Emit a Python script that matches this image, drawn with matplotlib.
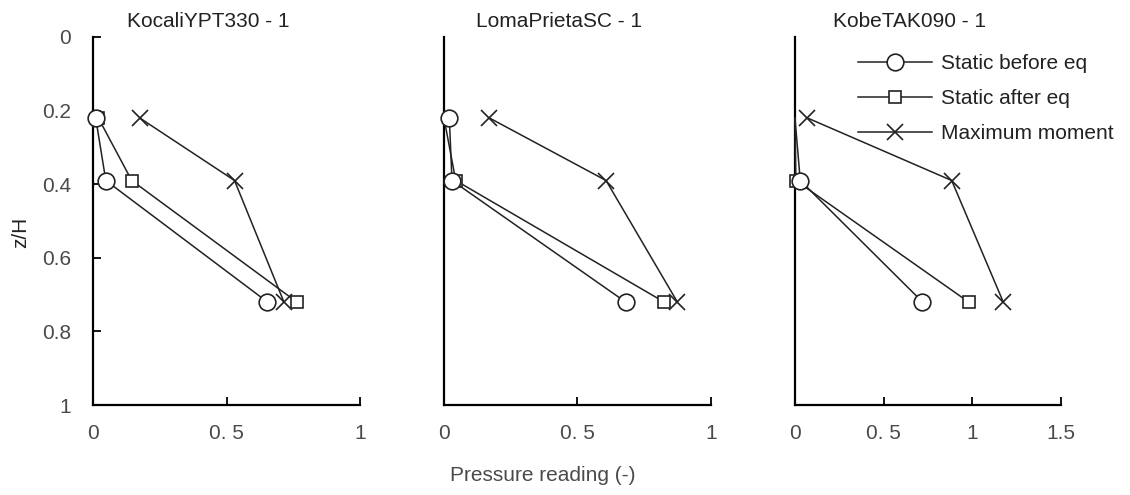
import matplotlib
matplotlib.use('Agg')
import matplotlib.pyplot as plt
import numpy as np

plt.rcParams['font.family'] = ['Liberation Sans', 'DejaVu Sans']

## ------------------------------
## data
z = [0.22, 0.39, 0.72]

titles = ['KocaliYPT330 - 1', 'LomaPrietaSC - 1', 'KobeTAK090 - 1']
labels = ['Static before eq', 'Static after eq', 'Maximum moment']

before_eq = [[0.01, 0.048, 0.653],
             [0.02, 0.03, 0.68],
             [0.0, 0.03, 0.72]]
after_eq = [[0.02, 0.145, 0.763],
            [0.0, 0.044, 0.824],
            [0.0, 0.005, 0.98]]
max_moment = [[0.175, 0.53, 0.715],
              [0.17, 0.607, 0.874],
              [0.07, 0.885, 1.176]]

# which points carry a marker (some sit hidden on the axis)
mark_before = [[0, 1, 2], [0, 1, 2], [1, 2]]
mark_after = [[0, 1, 2], [1, 2], [1, 2]]

xmax = [1, 1, 1.5]
xticks = [[0, 0.5, 1], [0, 0.5, 1], [0, 0.5, 1, 1.5]]
yticks = [0, 0.2, 0.4, 0.6, 0.8, 1]

gray = '#4a4a4a'
dark = '#222222'
fs = 15

fig = plt.figure(figsize=(11.3, 4.95), dpi=100)
lefts = [0.0823, 0.3929, 0.7035]
widths = [0.2363, 0.2363, 0.2351]

axes = []
for i in range(3):
	ax = fig.add_axes([lefts[i], 0.1818, widths[i], 0.7435])
	axes.append(ax)
	ax.plot(max_moment[i], z, color=dark, lw=1.1, marker='x', ms=11,
		mew=1.2, label=labels[2], zorder=3)
	ax.plot(after_eq[i], z, color=dark, lw=1.1, marker='s', ms=9,
		mfc='white', mec=dark, mew=1.2, markevery=mark_after[i],
		label=labels[1], zorder=4)
	ax.plot(before_eq[i], z, color=dark, lw=1.1, marker='o', ms=12,
		mfc='white', mec=dark, mew=1.2, markevery=mark_before[i],
		label=labels[0], zorder=5)
	ax.set_xlim(0, xmax[i])
	ax.set_ylim(1, 0)
	ax.set_xticks(xticks[i])
	ax.set_xticklabels([('%g' % t).replace('0.5', '0. 5') for t in xticks[i]])
	ax.spines['top'].set_visible(False)
	ax.spines['right'].set_visible(False)
	ax.spines['left'].set_linewidth(1.6)
	ax.spines['bottom'].set_linewidth(1.6)
	ax.tick_params(axis='x', direction='in', length=6, width=1.3,
		labelsize=fs, labelcolor=gray, pad=14)
	if i == 0:
		ax.set_yticks(yticks)
		ax.set_yticklabels(['%g' % t for t in yticks])
		ax.tick_params(axis='y', direction='in', length=6, width=1.3,
			labelsize=fs, labelcolor=gray, pad=16)
		ax.set_ylabel('z/H', fontsize=fs, color=dark)
		ax.yaxis.set_label_coords(-0.235, 0.47)
	else:
		ax.set_yticks([])
	ax.set_title(titles[i], fontsize=fs, color=dark, x=0.432, pad=7)
	for c in ax.get_children():
		if isinstance(c, matplotlib.lines.Line2D):
			c.set_clip_on(False)

h, l = axes[2].get_legend_handles_labels()
leg = axes[2].legend(h[::-1], l[::-1], loc='upper left', bbox_to_anchor=(0.205, 0.976),
	borderaxespad=0, borderpad=0.4, frameon=False, fontsize=fs,
	handlelength=3.55, labelspacing=0.77, handletextpad=0.45)
for t in leg.get_texts():
	t.set_color(dark)

fig.text(0.48, 0.04, 'Pressure reading (-)', ha='center', va='center',
	fontsize=fs, color=gray)

plt.savefig('out.png', dpi=100)
plt.close(fig)
